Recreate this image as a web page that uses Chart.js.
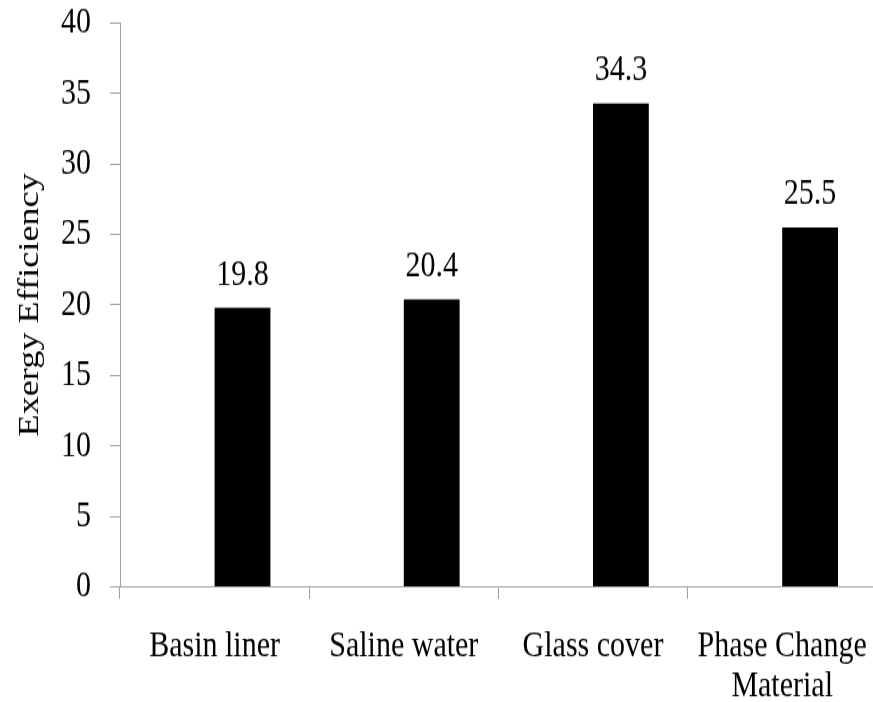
<!DOCTYPE html>
<html>
<head>
<meta charset="utf-8">
<script src="https://cdn.jsdelivr.net/npm/chart.js@4/dist/chart.umd.min.js"></script>
<style>
  html, body { margin: 0; padding: 0; overflow: hidden; background: #fff; width: 873px; height: 702px; }
  #wrap { width: 890px; height: 562px; transform: scale(1, 1.25); transform-origin: 0 0; }
  canvas { display: block; }
</style>
</head>
<body>
<div id="wrap"><canvas id="c" width="890" height="562" style="width:890px;height:562px"></canvas></div>
<script>
const categories = ['Basin liner', 'Saline water', 'Glass cover', ['Phase Change', 'Material']];
const exergyEfficiency = [19.8, 20.4, 34.3, 25.5];
const spacerSeries = [null, null, null, null];
const yTickValues = [0, 5, 10, 15, 20, 25, 30, 35, 40];
const yTitle = 'Exergy Efficiency';

const FONT = '"Liberation Serif", "Times New Roman", serif';
const AXIS_GRAY = '#a0a0a0';

const valueLabels = {
  id: 'valueLabels',
  afterDatasetsDraw(chart) {
    const ctx = chart.ctx;
    const meta = chart.getDatasetMeta(1);
    ctx.save();
    ctx.font = '30px ' + FONT;
    ctx.fillStyle = '#000';
    ctx.textAlign = 'center';
    ctx.textBaseline = 'alphabetic';
    meta.data.forEach((bar, i) => {
      ctx.fillText(exergyEfficiency[i].toFixed(1), bar.x, bar.y - 18.4);
    });
    ctx.restore();
  }
};

new Chart(document.getElementById('c'), {
  type: 'bar',
  data: {
    labels: categories,
    datasets: [
      { label: 'spacer', data: spacerSeries, backgroundColor: 'rgba(0,0,0,0)' },
      { label: 'Exergy Efficiency', data: exergyEfficiency, backgroundColor: '#000000', borderWidth: 0 }
    ]
  },
  options: {
    responsive: false,
    animation: false,
    devicePixelRatio: 1,
    categoryPercentage: 0.59,
    barPercentage: 1.0,
    layout: { padding: { top: 18.4, right: 10, left: 0, bottom: 0 } },
    plugins: { legend: { display: false }, tooltip: { enabled: false } },
    scales: {
      x: {
        offset: true,
        grid: { display: true, drawOnChartArea: false, drawTicks: true, tickLength: 9.6, color: AXIS_GRAY, offset: true },
        border: { display: true, color: AXIS_GRAY, width: 1 },
        ticks: { color: '#000', font: { family: FONT, size: 30, lineHeight: 1.07 }, padding: 22, maxRotation: 0, autoSkip: false },
        afterFit(scale) { scale.height = 92.6; }
      },
      y: {
        min: 0, max: 40,
        afterBuildTicks(scale) { scale.ticks = yTickValues.map(v => ({ value: v })); },
        grid: { display: true, drawOnChartArea: false, drawTicks: true, tickLength: 10, color: AXIS_GRAY },
        border: { display: true, color: AXIS_GRAY, width: 1 },
        ticks: { color: '#000', font: { family: FONT, size: 30, lineHeight: 1.0 }, padding: 19 },
        title: { display: true, text: yTitle, color: '#000', font: { family: FONT, size: 29, lineHeight: 1.2 }, padding: { top: 13, bottom: 0 } },
        afterFit(scale) { scale.width = 120; scale.paddingTop = 0; scale.paddingBottom = 0; }
      }
    }
  },
  plugins: [valueLabels]
});
</script>
</body>
</html>
